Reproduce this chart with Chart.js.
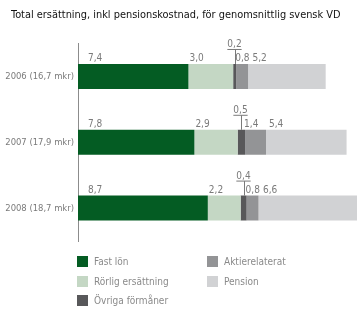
<!DOCTYPE html>
<html>
<head>
<meta charset="utf-8">
<script src="https://cdn.jsdelivr.net/npm/chart.js@4"></script>
<style>
  body { margin: 0; background: #fff; }
  #wrap { position: relative; width: 360px; height: 322px; }
  #legend {
    position: absolute; left: 77px; top: 252px;
    display: grid; grid-template-rows: repeat(3, 19.5px);
    grid-auto-flow: column; grid-template-columns: 130px 130px;
    font: 10px "DejaVu Sans Condensed", sans-serif; color: #8a8a8a;
  }
  #legend div { display: flex; align-items: center; }
  #legend span { display: inline-block; width: 11px; height: 11px; margin-right: 6px; }
</style>
</head>
<body>
<div id="wrap">
  <canvas id="chart_one"></canvas>
  <div id="legend"></div>
</div>
<script>
var categories = ["2006 (16,7 mkr)", "2007 (17,9 mkr)", "2008 (18,7 mkr)"];
var seriesNames = ["Fast lön", "Rörlig ersättning", "Övriga förmåner", "Aktierelaterat", "Pension"];
var fastLon = [7.4, 7.8, 8.7];
var rorlig = [3.0, 2.9, 2.2];
var ovriga = [0.2, 0.5, 0.4];
var aktie = [0.8, 1.4, 0.8];
var pension = [5.2, 5.4, 6.6];
var colors = ["#045c23", "#c4d7c4", "#58585a", "#939496", "#d1d2d4"];
var fontFam = "'DejaVu Sans Condensed', sans-serif";

function fmt(v) {
  return v.toFixed(1).replace(".", ",");
}

// value labels above each segment
var valueLabels = {
  id: "valueLabels",
  afterLayout: function (chart) {
    // title sits a bit right of the y labels
    chart.titleBlock.left = 11;
  },
  afterDatasetsDraw: function (chart) {
    let ctx = chart.ctx;
    let offsets = [10, 1, 0, -1, 3];
    let lastEnd = [];
    ctx.save();
    ctx.font = "10px " + fontFam;
    ctx.fillStyle = "#7a7a7a";
    ctx.strokeStyle = "#7a7a7a";
    ctx.lineWidth = 1;
    chart.data.datasets.forEach(function (ds, di) {
      let meta = chart.getDatasetMeta(di);
      meta.data.forEach(function (bar, i) {
        let txt = fmt(ds.data[i]);
        let w = ctx.measureText(txt).width;
        let left = Math.min(bar.base, bar.x);
        let top = bar.y - bar.height / 2;
        if (di === 2) {
          let cx = Math.round((bar.x + bar.base) / 2) + 0.5;
          ctx.textAlign = "center";
          ctx.textBaseline = "alphabetic";
          ctx.fillText(txt, cx - 1, top - 17);
          ctx.beginPath();
          ctx.moveTo(cx - 1 - w / 2, top - 14.5);
          ctx.lineTo(cx - 1 + w / 2, top - 14.5);
          ctx.moveTo(cx, top - 14.5);
          ctx.lineTo(cx, top);
          ctx.stroke();
        } else {
          let x = left + offsets[di];
          if (lastEnd[i] !== undefined) x = Math.max(x, lastEnd[i] + 3);
          ctx.textAlign = "left";
          ctx.textBaseline = "alphabetic";
          ctx.fillText(txt, x, top - 3);
          lastEnd[i] = x + w;
        }
      });
    });
    ctx.restore();
  },
};

var allSeries = [fastLon, rorlig, ovriga, aktie, pension];
var barGraph = document.getElementById("chart_one").getContext("2d");
var vdChart = new Chart(barGraph, {
  type: "bar",
  data: {
    labels: categories,
    datasets: allSeries.map(function (d, k) {
      return {
        label: seriesNames[k],
        data: d,
        backgroundColor: colors[k],
        borderWidth: 0,
        categoryPercentage: 1,
        barPercentage: 0.38,
      };
    }),
  },
  plugins: [valueLabels],
  options: {
    indexAxis: "y",
    responsive: true,
    maintainAspectRatio: false,
    animation: false,
    layout: { padding: { left: 0, right: 0, top: 0, bottom: 81 } },
    scales: {
      x: { stacked: true, display: false, min: 0, max: 18.9 },
      y: {
        stacked: true,
        grid: { display: false, drawTicks: false },
        border: { display: true, color: "#8c8c8c", width: 1 },
        ticks: { color: "#7a7a7a", padding: 4, font: { family: fontFam, size: 9.4 } },
        afterFit: function (s) { s.width = 78; },
      },
    },
    plugins: {
      legend: { display: false },
      tooltip: { enabled: false },
      title: {
        display: true,
        text: "Total ersättning, inkl pensionskostnad, för genomsnittlig svensk VD",
        align: "start",
        color: "#111",
        font: { family: fontFam, size: 10.9, weight: "normal" },
        padding: { top: 9, bottom: 21.5 },
      },
    },
  },
});

// legend in columns
var legendBox = document.getElementById("legend");
vdChart.data.datasets.forEach(function (ds) {
  let item = document.createElement("div");
  item.innerHTML = '<span style="background:' + ds.backgroundColor + '"></span>' + ds.label;
  legendBox.appendChild(item);
});
</script>
</body>
</html>
